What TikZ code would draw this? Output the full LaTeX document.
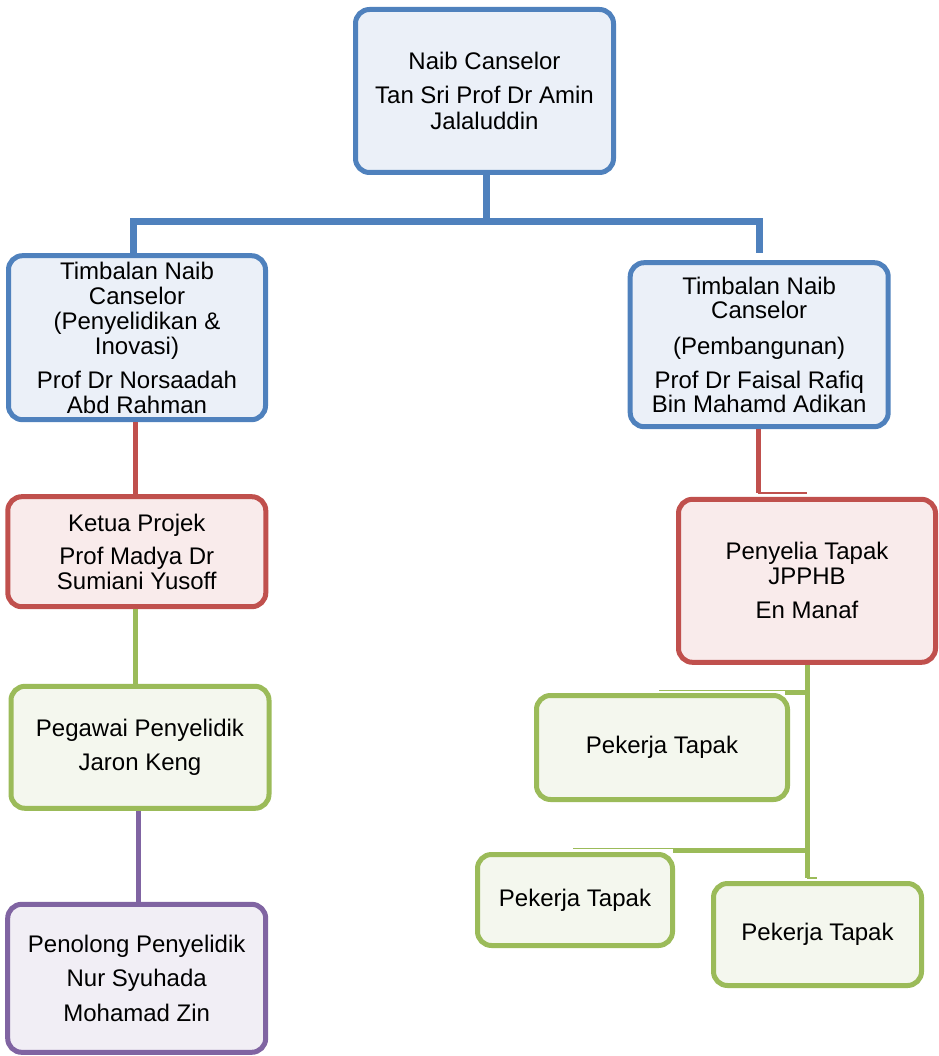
\documentclass[tikz,border=0pt]{standalone}
\usepackage{fontspec}
\setmainfont{Liberation Sans}
\definecolor{nblue}{HTML}{4F81BD}
\definecolor{nbluefill}{HTML}{EBF0F8}
\definecolor{nred}{HTML}{C0504D}
\definecolor{nredfill}{HTML}{F9EBEB}
\definecolor{ngreen}{HTML}{9BBB59}
\definecolor{ngreenfill}{HTML}{F4F7EE}
\definecolor{npurple}{HTML}{8064A2}
\definecolor{npurplefill}{HTML}{F1EEF5}
\newcommand\boxfont{\fontsize{24}{25.3}\selectfont}
\tikzset{
  box/.style={draw, line width=5pt, rounded corners=14pt, align=center, inner sep=0pt, font=\boxfont, text=black},
  bluebox/.style={box, draw=nblue, fill=nbluefill},
  redbox/.style={box, draw=nred, fill=nredfill},
  greenbox/.style={box, draw=ngreen, fill=ngreenfill},
  purplebox/.style={box, draw=npurple, fill=npurplefill},
  blueline/.style={draw=nblue, line width=7pt},
  redline/.style={draw=nred, line width=4.7pt},
  greenline/.style={draw=ngreen, line width=5pt},
  purpleline/.style={draw=npurple, line width=5pt},
  thinred/.style={draw=nred, line width=1.2pt},
  thingreen/.style={draw=ngreen, line width=1.2pt},
}
\begin{document}
\begin{tikzpicture}[x=1pt,y=-1pt]
\useasboundingbox (0,0) rectangle (938,1056);

% boxes
\node[bluebox, minimum width=258pt, minimum height=163pt] (top) at (484.5,91)
  {Naib Canselor\\[8.7pt]Tan Sri Prof Dr Amin\\Jalaluddin};
\node[bluebox, minimum width=257pt, minimum height=164pt] (tncL) at (137,337.7)
  {Timbalan Naib\\[-0.3pt]Canselor\\[-0.3pt](Penyelidikan \&\\[-0.3pt]Inovasi)\\[8.7pt]Prof Dr Norsaadah\\[-0.3pt]Abd Rahman};
\node[bluebox, minimum width=258pt, minimum height=164pt] (tncR) at (759.2,344.7)
  {Timbalan Naib\\[-0.7pt]Canselor\\[10.7pt](Pembangunan)\\[8.4pt]Prof Dr Faisal Rafiq\\[-1.6pt]Bin Mahamd Adikan};
\node[redbox, minimum width=258pt, minimum height=110pt] (ketua) at (136.8,551.7)
  {Ketua Projek\\[8pt]Prof Madya Dr\\[-0.3pt]Sumiani Yusoff};
\node[greenbox, minimum width=258pt, minimum height=122pt] (pegawai) at (140,747.3)
  {Pegawai Penyelidik\\[8.1pt]Jaron Keng};
\node[purplebox, minimum width=258pt, minimum height=148pt] (penolong) at (136.7,978.3)
  {Penolong Penyelidik\\[8.7pt]Nur Syuhada\\[9pt]Mohamad Zin};
\node[redbox, minimum width=257pt, minimum height=163pt] (penyelia) at (807,580.8)
  {Penyelia Tapak\\[-0.3pt]JPPHB\\[8.7pt]En Manaf};
\node[greenbox, minimum width=251pt, minimum height=104pt] (pek1) at (662,747.5) {Pekerja Tapak};
\node[greenbox, minimum width=195pt, minimum height=91pt] (pek2) at (575,900) {Pekerja Tapak};
\node[greenbox, minimum width=208pt, minimum height=102pt] (pek3) at (817.5,934.5) {Pekerja Tapak};

% blue connectors
\coordinate (bjc) at (486.7,221.5);
\coordinate (rb) at (759.3,253.3);
\draw[blueline] ([xshift=2.2pt]top.south) -- (bjc);
\draw[blueline] ([xshift=-3.3pt]tncL.north) |- (bjc) -| (rb);

% left column
\draw[redline] ([xshift=-1.3pt]tncL.south) -- ([xshift=-1.3pt]tncL.south |- ketua.north);
\draw[greenline] ([xshift=-1.1pt]ketua.south) -- ([xshift=-1.1pt]ketua.south |- pegawai.north);
\draw[purpleline] ([xshift=-1.7pt]pegawai.south) -- ([xshift=-1.7pt]pegawai.south |- penolong.north);

% right column
\coordinate (rr) at (758.2,493);
\coordinate (rrt) at (807,493);
\draw[redline] ([xshift=-1pt]tncR.south) -- (rr);
\draw[thinred] (rr) -- (rrt);

\coordinate (gend) at (807,878);
\coordinate (gendt) at (817,878);
\coordinate (g1) at (807,692);
\coordinate (g1a) at (785,692);
\coordinate (g1t) at (659,690.4);
\coordinate (g2) at (807,850);
\coordinate (g2a) at (673,850);
\coordinate (g2t) at (573,848.6);
\draw[greenline] (penyelia.south) -- (gend);
\draw[greenline] (g1) -- (g1a);
\draw[greenline] (g2) -- (g2a);
\draw[thingreen] (g1a |- g1t) -- (g1t);
\draw[thingreen] (g2a |- g2t) -- (g2t);
\draw[thingreen] (gend) -- (gendt);
\end{tikzpicture}
\end{document}
